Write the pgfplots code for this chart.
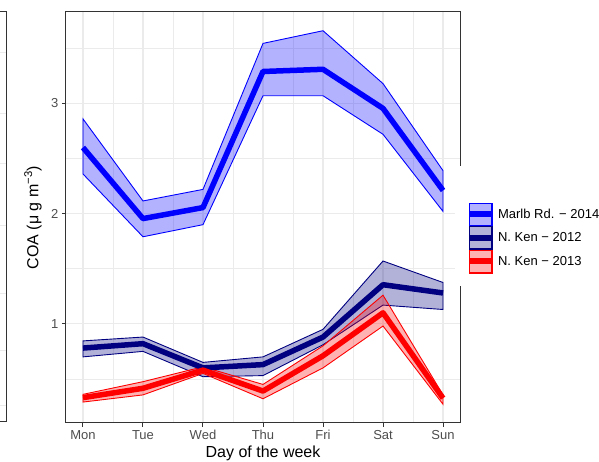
\documentclass[border=0pt]{standalone}
\usepackage{pgfplots}
\pgfplotsset{compat=1.18}
\usepackage{fontspec}
\setmainfont{Liberation Sans}
\definecolor{gridc}{HTML}{EBEBEB}
\definecolor{framec}{HTML}{333333}
\definecolor{ticklab}{HTML}{4D4D4D}
\definecolor{marlb}{HTML}{0000FF}
\definecolor{nkA}{HTML}{000080}
\definecolor{nkB}{HTML}{FF0000}
\begin{document}
\begin{tikzpicture}
\useasboundingbox (0pt,0pt) rectangle (599pt,462pt);
\clip (0pt,0pt) rectangle (599pt,462pt);
% fragment of the neighbouring panel
\foreach \yy in {410,349,299,237,169,112,57} {\draw[gridc, line width=0.8pt] (0pt,\yy pt) -- (6.5pt,\yy pt);}
\draw[framec, line width=1pt] (-2pt,450pt) -- (6.5pt,450pt) -- (6.5pt,40pt) -- (-2pt,40pt);
\begin{axis}[
  at={(66pt,39pt)}, anchor=south west,
  scale only axis, width=394pt, height=411pt,
  xmin=0.717, xmax=7.283, ymin=0.10, ymax=3.83,
  xtick={1,2,3,4,5,6,7},
  xticklabels={Mon,Tue,Wed,Thu,Fri,Sat,Sun},
  ytick={1,2,3},
  minor xtick={1.5,2.5,3.5,4.5,5.5,6.5},
  minor ytick={0.5,1.5,2.5,3.5},
  grid=both,
  major grid style={gridc, line width=1.1pt},
  minor grid style={gridc, line width=0.55pt},
  minor tick length=0pt,
  major tick length=4pt,
  tick align=outside,
  major tick style={framec, line width=1pt},
  axis line style={framec, line width=1pt},
  xtick pos=bottom, ytick pos=left,
  /pgf/number format/assume math mode=true,
  ticklabel style={font=\fontsize{13}{15}\selectfont, text=ticklab},
  xlabel={Day of the week},
  ylabel={COA (μ g m\textsuperscript{−3})},
  label style={font=\fontsize{16}{19}\selectfont},
  xlabel style={at={(axis description cs:0.5,-0.073)}, anchor=center},
  ylabel style={at={(axis description cs:-0.084,0.5)}, anchor=center},
  legend style={at={(axis description cs:0.987,0.479)}, anchor=west,
    draw=none, fill=white, inner xsep=11pt, inner ysep=13pt,
    row sep=0pt, font=\fontsize{13}{15}\selectfont,
    nodes={inner sep=0pt},
    /tikz/every odd column/.append style={column sep=3pt}},
  legend cell align=left,
  clip=false,
]
% ribbons
\addplot[draw=marlb, line width=0.9pt, fill=marlb, fill opacity=0.3, draw opacity=1, forget plot]
  coordinates {(1,2.86) (2,2.115) (3,2.22) (4,3.545) (5,3.66) (6,3.18) (7,2.39)
               (7,2.02) (6,2.72) (5,3.07) (4,3.07) (3,1.90) (2,1.79) (1,2.36)} -- cycle;
\addplot[draw=nkA, line width=0.9pt, fill=nkA, fill opacity=0.3, draw opacity=1, forget plot]
  coordinates {(1,0.845) (2,0.88) (3,0.65) (4,0.70) (5,0.95) (6,1.57) (7,1.375)
               (7,1.13) (6,1.17) (5,0.81) (4,0.53) (3,0.52) (2,0.75) (1,0.70)} -- cycle;
\addplot[draw=nkB, line width=0.9pt, fill=nkB, fill opacity=0.3, draw opacity=1, forget plot]
  coordinates {(1,0.36) (2,0.475) (3,0.61) (4,0.45) (5,0.80) (6,1.26) (7,0.355)
               (7,0.27) (6,0.98) (5,0.60) (4,0.32) (3,0.55) (2,0.355) (1,0.29)} -- cycle;
% mean lines
\addplot[marlb, line width=5.5pt, line join=round, forget plot]
  coordinates {(1,2.60) (2,1.955) (3,2.055) (4,3.29) (5,3.31) (6,2.955) (7,2.21)};
\addplot[nkA, line width=5.5pt, line join=round, forget plot]
  coordinates {(1,0.78) (2,0.82) (3,0.60) (4,0.63) (5,0.88) (6,1.355) (7,1.28)};
\addplot[nkB, line width=5.5pt, line join=round, forget plot]
  coordinates {(1,0.33) (2,0.415) (3,0.58) (4,0.39) (5,0.71) (6,1.10) (7,0.325)};
% legend
\addlegendimage{empty legend}
\addlegendentry{\rule{0pt}{22pt}}
\addlegendimage{legend image code/.code={
  \fill[marlb, fill opacity=0.3] (0pt,-11.5pt) rectangle (23pt,11.5pt);
  \draw[marlb, line width=1pt] (0.5pt,-11pt) rectangle (22.5pt,11pt);
  \draw[marlb, line width=6pt] (0pt,0pt) -- (23pt,0pt);}}
\addlegendentry{Marlb Rd. − 2014}
\addlegendimage{legend image code/.code={
  \fill[nkA, fill opacity=0.3] (0pt,-11.5pt) rectangle (23pt,11.5pt);
  \draw[nkA, line width=1pt] (0.5pt,-11pt) rectangle (22.5pt,11pt);
  \draw[nkA, line width=6pt] (0pt,0pt) -- (23pt,0pt);}}
\addlegendentry{N. Ken − 2012}
\addlegendimage{legend image code/.code={
  \fill[nkB, fill opacity=0.3] (0pt,-11.5pt) rectangle (23pt,11.5pt);
  \draw[nkB, line width=1pt] (0.5pt,-11pt) rectangle (22.5pt,11pt);
  \draw[nkB, line width=6pt] (0pt,0pt) -- (23pt,0pt);}}
\addlegendentry{N. Ken − 2013}
\end{axis}
\end{tikzpicture}
\end{document}
